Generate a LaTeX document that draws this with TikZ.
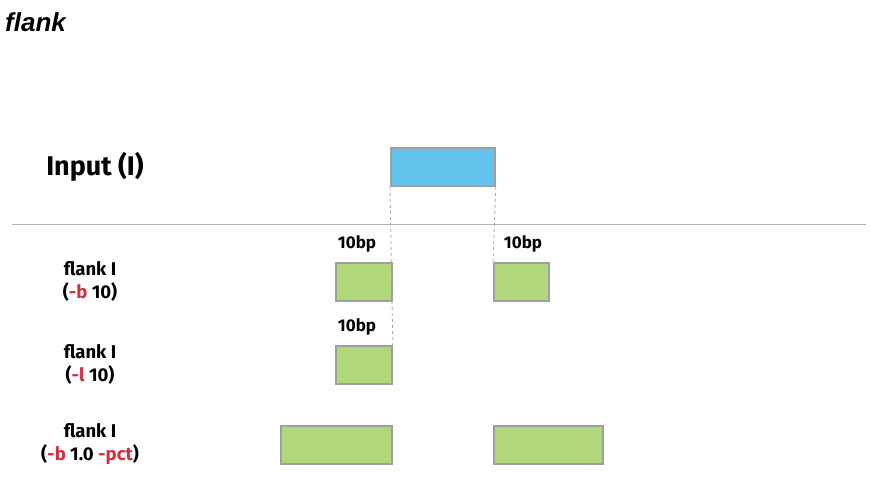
\documentclass[tikz,border=0pt]{standalone}
\usepackage{fontspec}
\setmainfont{Fira Sans}
\newfontfamily\titlefont{Liberation Sans}
\begin{document}
\begin{tikzpicture}[x=1pt,y=-1pt,
  box/.style={draw=gray!75,line width=1.8pt,inner sep=0pt,anchor=north west},
  bluebox/.style={box,fill=inblue},
  greenbox/.style={box,fill=flgreen},
  lbl/.style={font=\fontsize{18.5}{23}\selectfont\bfseries,inner sep=0pt,align=center},
  bp/.style={font=\fontsize{17}{19}\selectfont\bfseries,inner sep=0pt},
  guide/.style={draw=gray!70,dashed,line width=0.8pt}]
\definecolor{inblue}{HTML}{62C3EC}
\definecolor{flgreen}{HTML}{B0D77A}
\definecolor{optred}{HTML}{D0303F}
\useasboundingbox (0,0) rectangle (880,500);
\node[anchor=west,inner sep=0pt,font=\titlefont\fontsize{26}{28}\selectfont\bfseries\itshape] (title) at (5,22) {flank};
\node[lbl,font=\fontsize{27}{29}\selectfont\bfseries] (inlbl) at (95,167) {Input (I)};
\node[bluebox,minimum width=104pt,minimum height=38pt] (inp) at (390,147) {};
\coordinate (hl) at (12,224);
\coordinate (hr) at (866,224);
\draw[gray!60,line width=1pt] (hl) -- (hr);
% row 1
\node[greenbox,minimum width=56pt,minimum height=38pt] (r1a) at (335,262) {};
\node[greenbox,minimum width=55pt,minimum height=38pt] (r1b) at (493,262) {};
\node[bp] (bp1) at (357,244) {10bp};
\node[bp] (bp2) at (523,244) {10bp};
\node[lbl] (l1) at (90,281) {flank I\\({\color{optred}-b} 10)};
% row 2
\node[greenbox,minimum width=56pt,minimum height=38pt] (r2a) at (335,345) {};
\node[bp] (bp3) at (357,327) {10bp};
\node[lbl] (l2) at (90,364) {flank I\\({\color{optred}-l} 10)};
% row 3
\node[greenbox,minimum width=111pt,minimum height=38pt] (r3a) at (280,425) {};
\node[greenbox,minimum width=109pt,minimum height=38pt] (r3b) at (493,425) {};
\node[lbl] (l3) at (90,444) {flank I\\({\color{optred}-b} 1.0 {\color{optred}-pct})};
% guides
\draw[guide] (inp.south west) -- (r2a.north east);
\draw[guide] (inp.south east) -- (r1b.north west);
\end{tikzpicture}
\end{document}
